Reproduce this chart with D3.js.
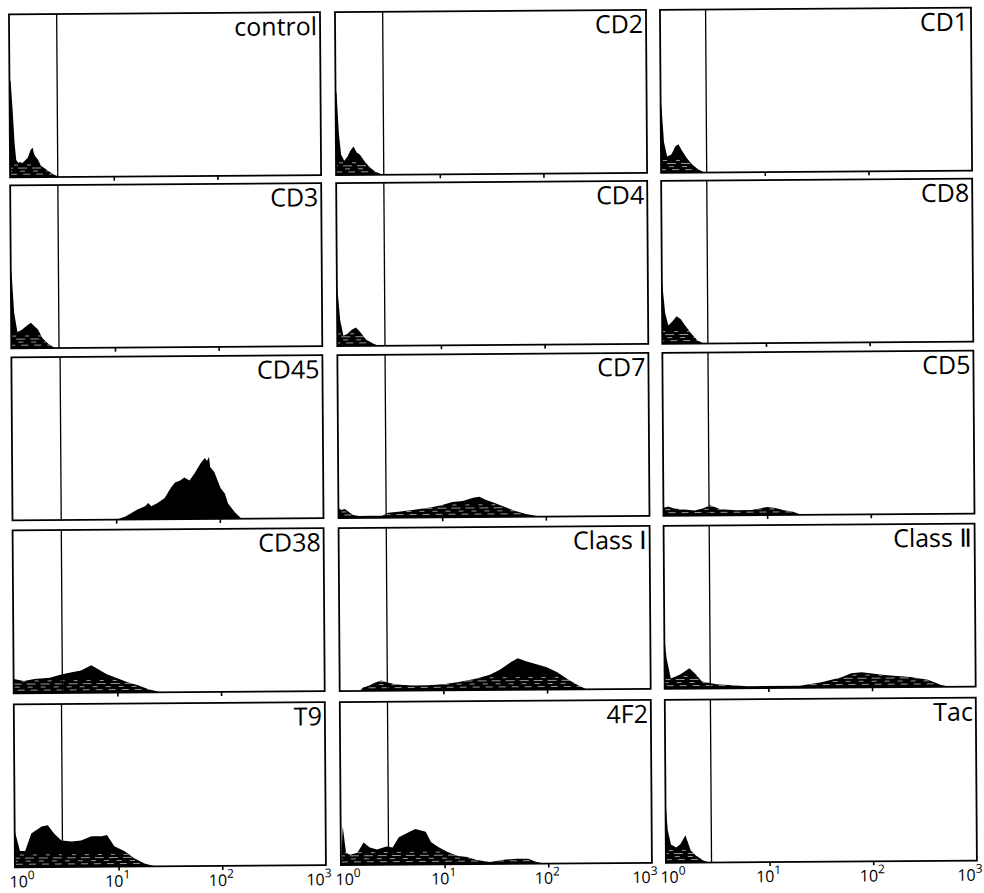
<!DOCTYPE html>
<html>
<head>
<meta charset="utf-8">
<script src="https://cdn.jsdelivr.net/npm/d3@7"></script>
<style>
  body { margin: 0; background: #fff; }
  svg { display: block; }
</style>
</head>
<body>
<svg id="chart" width="984" height="893"></svg>
<script>
// Antibody stained in each panel (row by row)
const markers = ["control", "CD2", "CD1", "CD3", "CD4", "CD8", "CD45", "CD7", "CD5",
                 "CD38", "Class Ⅰ", "Class Ⅱ", "T9", "4F2", "Tac"];

// Position of the negative/positive gate, log10 fluorescence
const gates = [0.46, 0.46, 0.44, 0.46, 0.46, 0.44, 0.47, 0.46, 0.44,
               0.47, 0.46, 0.44, 0.46, 0.46, 0.44];

// Decades of the fluorescence axis (10^0 ... 10^3)
const decades = [0, 1, 2, 3];
const decadeLabels = ["0", "1", "2", "3"];

// Histograms: [log10 fluorescence, cell count]
const controlHist = [[0, 0], [0, 96], [0.012, 94], [0.02, 80], [0.03, 64], [0.045, 34], [0.06, 17], [0.08, 14], [0.09, 15],
  [0.12, 14], [0.14, 16], [0.17, 19], [0.19, 24], [0.2, 27], [0.22, 29], [0.23, 24], [0.24, 21], [0.27, 17],
  [0.3, 11], [0.33, 9], [0.37, 6], [0.43, 2], [0.48, 0]];
const cd2Hist = [[0, 0], [0, 84], [0.01, 80], [0.03, 40], [0.05, 20], [0.08, 14], [0.11, 18], [0.14, 24], [0.17, 28],
  [0.2, 22], [0.23, 20], [0.27, 14], [0.32, 8], [0.38, 3], [0.45, 0]];
const cd1Hist = [[0, 0], [0, 72], [0.01, 62], [0.03, 30], [0.06, 16], [0.1, 18], [0.14, 26], [0.17, 28], [0.2, 22],
  [0.25, 14], [0.3, 8], [0.36, 3], [0.42, 0]];
const cd3Hist = [[0, 0], [0, 78], [0.01, 70], [0.03, 35], [0.06, 16], [0.1, 18], [0.15, 22], [0.19, 25], [0.22, 22],
  [0.26, 18], [0.3, 10], [0.36, 4], [0.42, 0]];
const cd4Hist = [[0, 0], [0, 55], [0.01, 50], [0.03, 25], [0.06, 10], [0.1, 12], [0.14, 16], [0.18, 18], [0.22, 14],
  [0.28, 6], [0.35, 2], [0.4, 0]];
const cd8Hist = [[0, 0], [0, 60], [0.01, 52], [0.03, 30], [0.06, 18], [0.1, 22], [0.14, 27], [0.18, 24], [0.22, 18],
  [0.28, 10], [0.34, 3], [0.4, 0]];
const cd45Hist = [[1.0, 0], [1.09, 3], [1.14, 6], [1.21, 10], [1.28, 13], [1.31, 16], [1.34, 13], [1.4, 16],
  [1.47, 21], [1.5, 26], [1.53, 31], [1.57, 36], [1.62, 38], [1.66, 41], [1.71, 38], [1.76, 45], [1.79, 50],
  [1.82, 55], [1.86, 60], [1.88, 57], [1.9, 61], [1.91, 51], [1.95, 46], [1.98, 38], [2.01, 30], [2.05, 25],
  [2.08, 15], [2.11, 11], [2.15, 6], [2.2, 1], [2.22, 0]];
const cd7Hist = [[0, 0], [0, 10], [0.03, 8], [0.06, 9], [0.1, 6], [0.14, 3], [0.2, 2], [0.3, 2], [0.42, 2], [0.48, 5],
  [0.6, 6], [0.75, 8], [0.9, 10], [1.0, 12], [1.1, 15], [1.2, 16], [1.3, 19], [1.36, 20], [1.42, 17], [1.5, 14],
  [1.6, 10], [1.7, 6], [1.8, 3], [1.9, 1], [1.95, 0]];
const cd5Hist = [[0, 0], [0, 8], [0.05, 9], [0.1, 7], [0.2, 6], [0.3, 5], [0.38, 7], [0.45, 10], [0.5, 8], [0.55, 6],
  [0.7, 5], [0.85, 5], [0.95, 7], [1.0, 8], [1.08, 7], [1.15, 5], [1.25, 3], [1.33, 0]];
const cd38Hist = [[0, 0], [0, 14], [0.1, 12], [0.2, 14], [0.35, 15], [0.45, 18], [0.55, 20], [0.65, 22], [0.75, 27],
  [0.8, 24], [0.9, 18], [1.0, 14], [1.1, 10], [1.2, 7], [1.3, 3], [1.42, 0]];
const class1Hist = [[0.2, 0], [0.22, 3], [0.28, 5], [0.34, 8], [0.4, 10], [0.46, 8], [0.55, 6], [0.7, 5], [0.85, 5],
  [1.0, 6], [1.15, 8], [1.3, 11], [1.45, 15], [1.55, 20], [1.65, 27], [1.72, 31], [1.8, 28], [1.9, 25], [2.0, 22],
  [2.1, 17], [2.2, 10], [2.3, 4], [2.38, 0]];
const class2Hist = [[0, 0], [0, 50], [0.02, 30], [0.06, 10], [0.15, 14], [0.24, 20], [0.3, 14], [0.36, 7], [0.5, 4],
  [0.8, 2], [1.3, 2], [1.5, 5], [1.7, 10], [1.8, 14], [1.9, 15], [2.12, 12], [2.37, 10], [2.54, 7], [2.66, 2], [2.75, 0]];
const t9Hist = [[0, 0], [0, 36], [0.05, 16], [0.1, 16], [0.16, 33], [0.26, 40], [0.32, 41], [0.38, 33], [0.45, 26],
  [0.55, 25], [0.64, 26], [0.74, 30], [0.84, 30], [0.89, 31], [0.96, 20], [1.06, 15], [1.15, 8], [1.25, 3], [1.35, 0]];
const f42Hist = [[0, 0], [0.02, 38], [0.05, 12], [0.09, 10], [0.16, 12], [0.22, 22], [0.28, 17], [0.35, 15], [0.44, 18],
  [0.5, 17], [0.56, 27], [0.66, 32], [0.72, 35], [0.82, 32], [0.87, 22], [0.94, 17], [1.03, 12], [1.13, 8], [1.22, 7],
  [1.31, 4], [1.44, 2], [1.57, 4], [1.69, 5], [1.81, 5], [1.88, 2], [1.97, 0]];
const tacHist = [[0, 0], [0, 60], [0.02, 32], [0.05, 18], [0.1, 15], [0.14, 18], [0.19, 27], [0.24, 12], [0.29, 7],
  [0.36, 2], [0.42, 0]];

const histograms = [controlHist, cd2Hist, cd1Hist, cd3Hist, cd4Hist, cd8Hist, cd45Hist, cd7Hist, cd5Hist,
                    cd38Hist, class1Hist, class2Hist, t9Hist, f42Hist, tacHist];

// Layout
const panelW = 311, panelH = 163;
const colX = [12, 338, 663];
const rowY = [11, 182, 354, 527, 701];

const svg = d3.select("#chart");
const root = svg.append("g").attr("transform", "rotate(-0.4 492 446)");

const x = d3.scaleLinear().domain([0, 3]).range([0, panelW]);
const y = d3.scaleLinear().domain([0, 160]).range([panelH, 0]);

const area = d3.area()
  .x(d => x(d[0]))
  .y0(panelH)
  .y1(d => y(d[1]))
  .curve(d3.curveLinear);

const font = "'Open Sans', 'DejaVu Sans', sans-serif";

markers.forEach((name, i) => {
  const r = Math.floor(i / 3), c = i % 3;
  const g = root.append("g").attr("transform", `translate(${colX[c]},${rowY[r]})`);

  // filled histogram
  g.append("path")
    .datum(histograms[i])
    .attr("d", area)
    .attr("fill", "#000");

  // light streaks inside the fill (the solid CD45 peak has none)
  if (name !== "CD45") {
    const clipId = `clip${i}`;
    g.append("clipPath").attr("id", clipId)
      .append("path").datum(histograms[i]).attr("d", area);
    g.append("g").attr("clip-path", `url(#${clipId})`)
      .selectAll("line")
      .data([3, 6, 9, 12])
      .join("line")
      .attr("x1", 0).attr("x2", panelW)
      .attr("y1", d => y(d)).attr("y2", d => y(d))
      .attr("stroke", "#fff")
      .attr("stroke-width", 0.8)
      .attr("stroke-dasharray", (d, k) => ["7 6", "5 8", "9 5", "4 9"][k])
      .attr("stroke-dashoffset", (d, k) => k * 3 + i)
      .attr("opacity", 0.75);
  }

  // gate line
  g.append("line")
    .attr("x1", x(gates[i])).attr("x2", x(gates[i]))
    .attr("y1", 0).attr("y2", panelH)
    .attr("stroke", "#000")
    .attr("stroke-width", 1.3);

  // frame
  g.append("rect")
    .attr("x", 0).attr("y", 0)
    .attr("width", panelW).attr("height", panelH)
    .attr("fill", "none")
    .attr("stroke", "#000")
    .attr("stroke-width", 1.8);

  // decade ticks on the lower edge
  const axis = g.append("g")
    .attr("transform", `translate(0,${panelH})`)
    .call(d3.axisBottom(x).tickValues([1, 2]).tickSize(4).tickFormat(""));
  axis.select(".domain").remove();
  axis.selectAll(".tick line").attr("stroke", "#000").attr("stroke-width", 1.6);

  // marker name
  g.append("text")
    .attr("x", panelW - 3)
    .attr("y", 23)
    .attr("text-anchor", "end")
    .attr("font-family", font)
    .attr("font-size", 25)
    .attr("fill", "#000")
    .text(name);

  // decade labels on the bottom row
  if (r === 4) {
    const shift = [7, -1, -1, -7];
    const lab = g.selectAll("text.decade")
      .data(decades)
      .join("text")
      .attr("class", "decade")
      .attr("x", (d, k) => x(d) + shift[k])
      .attr("y", panelH + 20)
      .attr("text-anchor", "middle")
      .attr("font-family", font)
      .attr("font-size", 16)
      .attr("fill", "#000");
    lab.append("tspan").text("10");
    lab.append("tspan")
      .attr("dy", -8)
      .attr("font-size", 12)
      .text((d, k) => decadeLabels[k]);
  }
});
</script>
</body>
</html>
